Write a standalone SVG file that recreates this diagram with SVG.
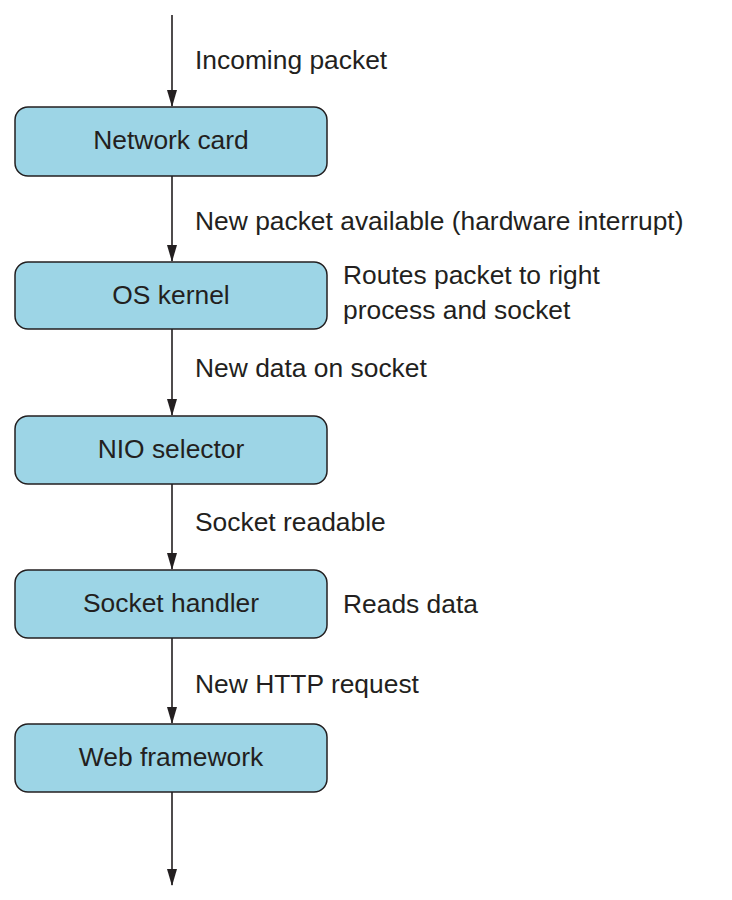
<svg xmlns="http://www.w3.org/2000/svg" width="732" height="900" viewBox="0 0 732 900">
<style>
.box{fill:#9dd5e6;stroke:#231f20;stroke-width:1.5}
.t{font-family:"Liberation Sans",Arial,sans-serif;font-size:26.4px;fill:#231f20}
.c{text-anchor:middle}
.ln{stroke:#231f20;stroke-width:1.6;fill:none}
</style>
<defs>
<marker id="arr" markerWidth="17" markerHeight="10" refX="16" refY="5" orient="auto" markerUnits="userSpaceOnUse" viewBox="0 0 17 10">
<path d="M0,0 L17,5 L0,10 Z" fill="#231f20"/>
</marker>
</defs>
<rect width="732" height="900" fill="#fff"/>
<g id="connectors">
<line class="ln" x1="172" y1="15" x2="172" y2="106" marker-end="url(#arr)"/>
<line class="ln" x1="172" y1="176" x2="172" y2="261" marker-end="url(#arr)"/>
<line class="ln" x1="172" y1="329" x2="172" y2="415" marker-end="url(#arr)"/>
<line class="ln" x1="172" y1="484" x2="172" y2="569" marker-end="url(#arr)"/>
<line class="ln" x1="172" y1="638" x2="172" y2="723" marker-end="url(#arr)"/>
<line class="ln" x1="172" y1="792" x2="172" y2="885" marker-end="url(#arr)"/>
</g>
<g id="labels">
<text class="t" x="195" y="69">Incoming packet</text>
<text class="t" x="195" y="230">New packet available (hardware interrupt)</text>
<text class="t" x="343" y="284">Routes packet to right</text>
<text class="t" x="343" y="319">process and socket</text>
<text class="t" x="195" y="377">New data on socket</text>
<text class="t" x="195" y="531">Socket readable</text>
<text class="t" x="343" y="613">Reads data</text>
<text class="t" x="195" y="693">New HTTP request</text>
</g>
<g id="network-card"><rect class="box" x="15" y="107" width="312" height="69" rx="13"/><text class="t c" x="171" y="149">Network card</text></g>
<g id="os-kernel"><rect class="box" x="15" y="262" width="312" height="67" rx="13"/><text class="t c" x="171" y="304">OS kernel</text></g>
<g id="nio-selector"><rect class="box" x="15" y="416" width="312" height="68" rx="13"/><text class="t c" x="171" y="458">NIO selector</text></g>
<g id="socket-handler"><rect class="box" x="15" y="570" width="312" height="68" rx="13"/><text class="t c" x="171" y="612">Socket handler</text></g>
<g id="web-framework"><rect class="box" x="15" y="724" width="312" height="68" rx="13"/><text class="t c" x="171" y="766">Web framework</text></g>
</svg>
